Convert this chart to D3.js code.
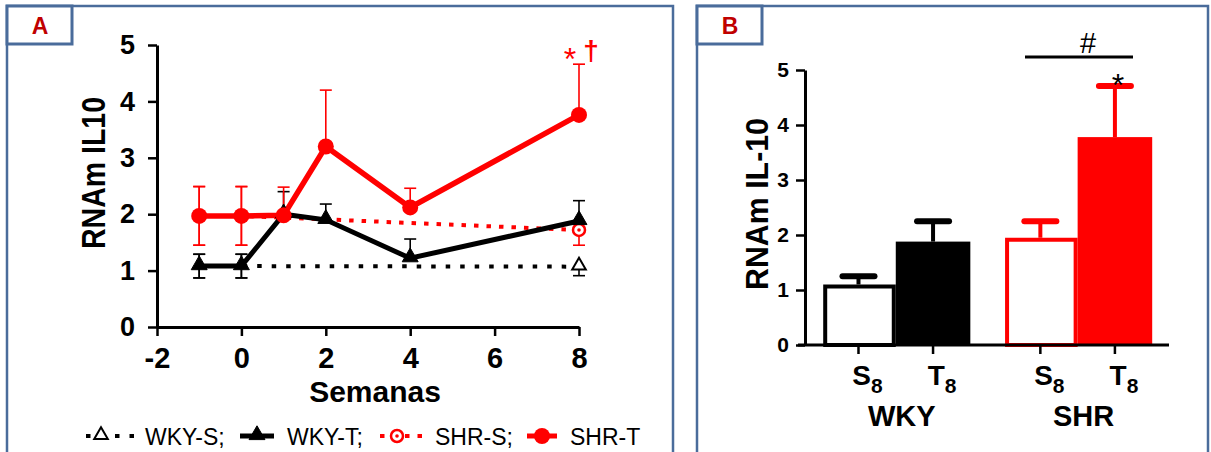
<!DOCTYPE html>
<html>
<head>
<meta charset="utf-8">
<script src="https://cdn.jsdelivr.net/npm/d3@7"></script>
<style>
body { margin: 0; background: #fff; }
svg text { font-family: "Liberation Sans", Arial, sans-serif; }
.axis path, .axis line { stroke: #000; }
.axis text { fill: #000; font-weight: bold; }
</style>
</head>
<body>
<svg id="chart" width="1211" height="452"></svg>
<script>
// ---- panel A data (weeks of training) ----
var weeks = [-1, 0, 1, 2, 4, 8];
var wkyT = [1.08, 1.08, 2.0, 1.9, 1.22, 1.88];
var wkyTErr = [0.21, 0.21, 0.4, 0.28, 0.34, 0.36];
var shrT = [1.97, 1.97, 1.98, 3.2, 2.12, 3.76];
var shrTErr = [0.52, 0.52, 0.5, 1.0, 0.34, 0.9];
var sedWeeks = [-1, 0, 8];
var wkyS = [1.08, 1.08, 1.07];
var wkySErr = [0.21, 0.21, 0.16];
var shrS = [1.97, 1.97, 1.72];
var shrSErr = [0.52, 0.52, 0.27];
var xTicksA = [-2, 0, 2, 4, 6, 8];
var yTicks = [0, 1, 2, 3, 4, 5];
var legendLabels = ["WKY-S;", "WKY-T;", "SHR-S;", "SHR-T"];

// ---- panel B data (week 8) ----
var barGroups = ["WKY", "SHR"];
var barConds = ["S", "T"];
var barGroup = ["WKY", "WKY", "SHR", "SHR"];
var barCond = ["S", "T", "S", "T"];
var barValue = [1.1, 1.88, 1.95, 3.78];
var barErr = [0.15, 0.37, 0.3, 0.93];

var RED = "#ff0000", BLUE = "#4a6c9b", LABELRED = "#c00000";
var svg = d3.select("#chart");
var plain = function (d) { return String(d); };   // keep "-2" with a hyphen

function panelFrame(x, w, letter) {
  svg.append("rect").attr("x", x).attr("y", 6).attr("width", w).attr("height", 470)
     .attr("fill", "none").attr("stroke", BLUE).attr("stroke-width", 2.5);
  svg.append("rect").attr("x", x).attr("y", 6).attr("width", 65).attr("height", 38)
     .attr("fill", "#fff").attr("stroke", BLUE).attr("stroke-width", 3);
  svg.append("text").attr("x", x + 33).attr("y", 34).attr("text-anchor", "middle")
     .attr("font-size", 23).attr("font-weight", "bold").attr("fill", LABELRED).text(letter);
}
panelFrame(7, 666, "A");
panelFrame(697, 511, "B");

// ================= Panel A =================
var xA = d3.scaleLinear().domain([-2, 8]).range([157, 579]);
var yA = d3.scaleLinear().domain([0, 5]).range([327, 45]);
var gA = svg.append("g");

gA.append("g").attr("class", "axis").attr("transform", "translate(0,327)")
  .call(d3.axisBottom(xA).tickValues(xTicksA).tickFormat(plain).tickSize(9).tickPadding(11).tickSizeOuter(0))
  .call(function (g) {
    g.select(".domain").attr("stroke-width", 3);
    g.selectAll(".tick line").attr("stroke-width", 2.5);
    g.selectAll("text").attr("font-size", 29);
  });
gA.append("g").attr("class", "axis").attr("transform", "translate(157,0)")
  .call(d3.axisLeft(yA).tickValues(yTicks).tickFormat(plain).tickSize(9).tickPadding(13).tickSizeOuter(0))
  .call(function (g) {
    g.select(".domain").attr("stroke-width", 3);
    g.selectAll(".tick line").attr("stroke-width", 2.5);
    g.selectAll("text").attr("font-size", 27);
  });

gA.append("text").attr("x", 375).attr("y", 402).attr("text-anchor", "middle")
  .attr("font-size", 30).attr("font-weight", "bold").text("Semanas");
gA.append("text").attr("transform", "translate(105,173) rotate(-90)")
  .attr("text-anchor", "middle").attr("font-size", 34).attr("font-weight", "bold")
  .attr("textLength", 152).attr("lengthAdjust", "spacingAndGlyphs").text("RNAm IL10");

function pts(xs, ys, es) {
  return xs.map(function (x, i) { return { x: x, y: ys[i], e: es[i] }; });
}
var series = [
  { name: "WKY-S", data: pts(sedWeeks, wkyS, wkySErr), color: "#000", dash: "4.5 10", width: 4, sym: "tri", open: true, trained: false },
  { name: "SHR-S", data: pts(sedWeeks, shrS, shrSErr), color: RED, dash: "4.5 8", width: 4, sym: "circ", open: true, trained: false },
  { name: "WKY-T", data: pts(weeks, wkyT, wkyTErr), color: "#000", dash: null, width: 5, sym: "tri", open: false, trained: true },
  { name: "SHR-T", data: pts(weeks, shrT, shrTErr), color: RED, dash: null, width: 5.5, sym: "circ", open: false, trained: true }
];

var line = d3.line().x(function (d) { return xA(d.x); }).y(function (d) { return yA(d.y); });

// error bars: both sides at baseline, up for trained, down for sedentary
series.forEach(function (s) {
  var eb = gA.append("g").attr("stroke", s.color).attr("stroke-width", 1.6);
  s.data.forEach(function (d) {
    var up = d.x <= 0 || s.trained, down = d.x <= 0 || !s.trained;
    var cx = xA(d.x);
    if (up) {
      eb.append("line").attr("x1", cx).attr("x2", cx).attr("y1", yA(d.y)).attr("y2", yA(d.y + d.e));
      eb.append("line").attr("x1", cx - 6).attr("x2", cx + 6).attr("y1", yA(d.y + d.e)).attr("y2", yA(d.y + d.e));
    }
    if (down) {
      eb.append("line").attr("x1", cx).attr("x2", cx).attr("y1", yA(d.y)).attr("y2", yA(d.y - d.e));
      eb.append("line").attr("x1", cx - 6).attr("x2", cx + 6).attr("y1", yA(d.y - d.e)).attr("y2", yA(d.y - d.e));
    }
  });
});

function drawSymbol(g, s, cx, cy) {
  if (s.sym === "tri") {
    g.append("path").attr("d", d3.symbol(d3.symbolTriangle, s.open ? 80 : 110)())
      .attr("transform", "translate(" + cx + "," + (cy - 1) + ")")
      .attr("fill", s.open ? "#fff" : "#000").attr("stroke", "#000").attr("stroke-width", s.open ? 2 : 1);
  } else {
    if (s.open) {
      g.append("circle").attr("cx", cx).attr("cy", cy).attr("r", 6)
        .attr("fill", "#fff").attr("stroke", RED).attr("stroke-width", 2.5);
      g.append("circle").attr("cx", cx).attr("cy", cy).attr("r", 1.8).attr("fill", RED);
    } else {
      g.append("circle").attr("cx", cx).attr("cy", cy).attr("r", 8).attr("fill", RED);
    }
  }
}

series.forEach(function (s) {
  gA.append("path").datum(s.data).attr("d", line).attr("fill", "none")
    .attr("stroke", s.color).attr("stroke-width", s.width)
    .attr("stroke-dasharray", s.dash);
});
series.forEach(function (s) {
  var mg = gA.append("g");
  s.data.forEach(function (d) {
    // sedentary markers at baseline sit under the trained ones
    if (!s.trained && d.x <= 0) return;
    drawSymbol(mg, s, xA(d.x), yA(d.y));
  });
});

gA.append("text").attr("x", xA(8) - 9).attr("y", 70).attr("text-anchor", "middle")
  .attr("font-size", 32).attr("fill", RED).text("*");
gA.append("text").attr("x", xA(8) + 12).attr("y", 60).attr("text-anchor", "middle")
  .attr("font-size", 28).attr("font-weight", "bold").attr("fill", RED).text("\u2020");

// legend
var legend = gA.append("g");
var legX = [[86, 135, 101, 145], [240, 274, 257, 287], [380, 427, 397, 435], [527, 557, 542, 570]];
var legOrder = [series[0], series[2], series[1], series[3]];
legOrder.forEach(function (s, i) {
  var p = legX[i], ly = 436;
  legend.append("line").attr("x1", p[0]).attr("x2", p[1]).attr("y1", ly).attr("y2", ly)
    .attr("stroke", s.color).attr("stroke-width", s.dash ? 4 : 5).attr("stroke-dasharray", s.dash);
  drawSymbol(legend, s, p[2], ly);
  legend.append("text").attr("x", p[3]).attr("y", 445).attr("font-size", 23).text(legendLabels[i]);
});

// ================= Panel B =================
var gx = d3.scaleBand().domain(barGroups).range([798, 1169]).paddingInner(0.18).paddingOuter(0.11).align(0.58);
var cx = d3.scaleBand().domain(barConds).range([0, gx.bandwidth()]).padding(0);
var yB = d3.scaleLinear().domain([0, 5]).range([345, 70]);
var gB = svg.append("g");

gB.append("g").attr("class", "axis").attr("transform", "translate(805,0)")
  .call(d3.axisLeft(yB).tickValues(yTicks).tickFormat(plain).tickSize(9).tickPadding(7).tickSizeOuter(0))
  .call(function (g) {
    g.select(".domain").attr("stroke-width", 3);
    g.selectAll(".tick line").attr("stroke-width", 2.5);
    g.selectAll("text").attr("font-size", 21);
  });
gB.append("text").attr("transform", "translate(768,204) rotate(-90)")
  .attr("text-anchor", "middle").attr("font-size", 32).attr("font-weight", "bold")
  .attr("textLength", 172).attr("lengthAdjust", "spacingAndGlyphs").text("RNAm IL-10");

var bars = barValue.map(function (v, i) {
  var x0 = gx(barGroup[i]) + cx(barCond[i]);
  var filled = barCond[i] === "T";
  var col = barGroup[i] === "WKY" ? "#000" : RED;
  return { x0: x0, w: cx.bandwidth(), v: v, e: barErr[i], filled: filled, col: col, cond: barCond[i] };
});

bars.forEach(function (b) {
  var mid = b.x0 + b.w / 2;
  gB.append("line").attr("x1", mid).attr("x2", mid).attr("y1", yB(b.v)).attr("y2", yB(b.v + b.e))
    .attr("stroke", b.col).attr("stroke-width", 4);
  gB.append("line").attr("x1", mid - 16).attr("x2", mid + 16).attr("y1", yB(b.v + b.e)).attr("y2", yB(b.v + b.e))
    .attr("stroke", b.col).attr("stroke-width", 6).attr("stroke-linecap", "round");
  if (b.filled) {
    gB.append("rect").attr("x", b.x0).attr("y", yB(b.v)).attr("width", b.w)
      .attr("height", yB(0) - yB(b.v)).attr("fill", b.col);
  } else {
    gB.append("rect").attr("x", b.x0 + 4).attr("y", yB(b.v) + 2).attr("width", b.w - 6)
      .attr("height", yB(0) - yB(b.v) - 2).attr("fill", "#fff")
      .attr("stroke", b.col).attr("stroke-width", 4);
  }
});

// x axis line and ticks
gB.append("line").attr("x1", 798).attr("x2", 1169).attr("y1", 345).attr("y2", 345)
  .attr("stroke", "#000").attr("stroke-width", 3);
bars.forEach(function (b) {
  var mid = b.x0 + b.w / 2;
  gB.append("line").attr("x1", mid).attr("x2", mid).attr("y1", 345).attr("y2", 354)
    .attr("stroke", "#000").attr("stroke-width", 2.5);
  var t = gB.append("text").attr("x", mid + 9).attr("y", 385).attr("text-anchor", "middle")
    .attr("font-size", 28).attr("font-weight", "bold");
  t.append("tspan").text(b.cond);
  t.append("tspan").attr("font-size", 21).attr("dy", 8).text("8");
});
barGroups.forEach(function (g) {
  gB.append("text").attr("x", gx(g) + gx.bandwidth() / 2 + 6).attr("y", 426)
    .attr("text-anchor", "middle").attr("font-size", 29).attr("font-weight", "bold").text(g);
});

// significance marks
gB.append("line").attr("x1", 1025).attr("x2", 1133).attr("y1", 57).attr("y2", 57)
  .attr("stroke", "#000").attr("stroke-width", 3);
gB.append("text").attr("x", 1088).attr("y", 53).attr("text-anchor", "middle")
  .attr("font-size", 29).text("#");
gB.append("text").attr("x", bars[3].x0 + bars[3].w / 2 + 3).attr("y", 96).attr("text-anchor", "middle")
  .attr("font-size", 32).text("*");
</script>
</body>
</html>
